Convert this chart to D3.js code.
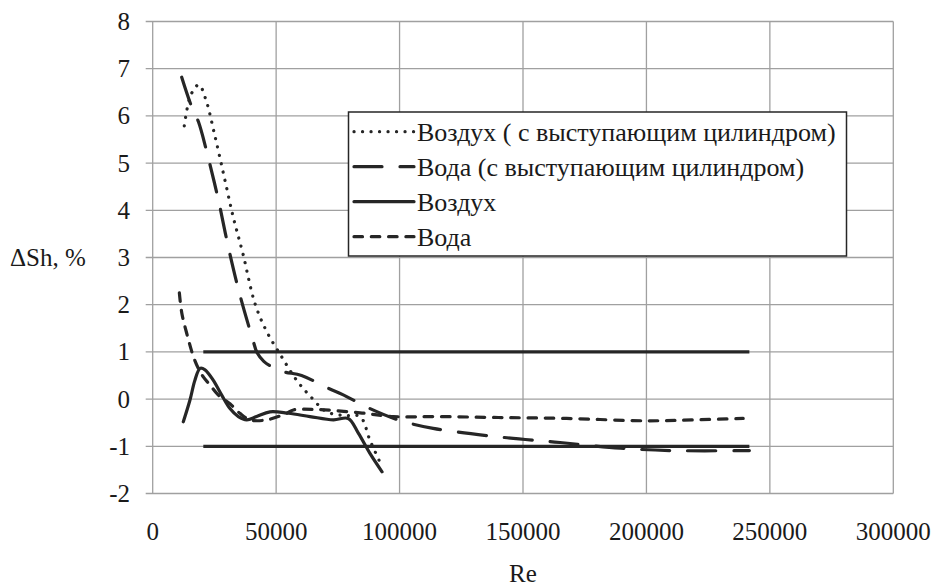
<html>
    <head>
        <title> ΔSh vs Re </title>
        <script src="https://d3js.org/d3.v7.min.js" charset="utf-8"></script>
        <style>
        body{
            margin: 0;
            background: white;
        }
        svg text{
            font-family: "Liberation Serif", "Times New Roman", Times, Tinos, "DejaVu Serif", "Noto Serif", serif;
        }
        .grid line{
            stroke: #a0a0a0;
            stroke-width: 1.3;
        }
        .curve{
            fill: none;
            stroke: #262626;
            stroke-width: 3.2;
        }
        </style>
    </head>
    <body>
        <script>
            //size of graphic
            var width = 933;
            var height = 586;

            //axis ticks
            var xTicks = [0, 50000, 100000, 150000, 200000, 250000, 300000];
            var yTicks = [-2, -1, 0, 1, 2, 3, 4, 5, 6, 7, 8];

            //Воздух ( с выступающим цилиндром)
            var reAirCyl = [12800, 15500, 18700, 21500, 25000, 29000, 32600, 36500, 41400, 46000, 52200, 58300, 64000, 70500, 78000, 84000, 88000, 92000];
            var shAirCyl = [5.79, 6.45, 6.66, 6.35, 5.62, 4.7, 3.86, 3.09, 2.03, 1.45, 0.9, 0.4, 0.05, -0.27, -0.35, -0.37, -0.87, -1.33];

            //Вода (с выступающим цилиндром)
            var reWaterCyl = [11750, 15800, 18500, 21900, 26600, 30600, 35100, 40500, 42300, 45000, 48500, 53000, 60300, 71100, 77200, 88000, 100000, 113600, 140000, 165000, 189400, 209600, 241700];
            var shWaterCyl = [6.82, 6.19, 5.88, 5.24, 4.22, 3.23, 2.25, 1.27, 0.98, 0.8, 0.68, 0.58, 0.5, 0.23, 0.09, -0.2, -0.45, -0.62, -0.8, -0.92, -1.04, -1.09, -1.09];

            //Воздух
            var reAir = [12400, 15100, 17100, 19200, 21200, 24500, 27900, 31300, 34700, 38100, 42100, 47500, 55000, 63700, 73200, 79200, 83300, 88000, 92900];
            var shAir = [-0.48, -0.02, 0.4, 0.65, 0.62, 0.4, 0.09, -0.2, -0.37, -0.44, -0.37, -0.27, -0.3, -0.37, -0.44, -0.41, -0.72, -1.15, -1.54];

            //Вода
            var reWater = [10800, 11800, 13800, 16500, 18500, 20500, 23200, 26500, 31300, 35300, 39400, 46200, 54300, 57000, 66400, 84000, 97500, 115000, 140000, 167700, 200100, 219000, 239200];
            var shWater = [2.25, 1.82, 1.39, 0.9, 0.65, 0.47, 0.3, 0.09, -0.1, -0.3, -0.44, -0.44, -0.3, -0.23, -0.22, -0.29, -0.37, -0.37, -0.39, -0.41, -0.46, -0.44, -0.41];

            //limits ±1 %
            var reLimit = [20500, 241700];
            var shUpper = [1, 1];
            var shLower = [-1, -1];

            var legendNames = ["Воздух ( с выступающим цилиндром)", "Вода (с выступающим цилиндром)", "Воздух", "Вода"];

            //line styles for each series (dash patterns)
            var dashes = ["0.1 8.4", "28 18", null, "8.5 8.8"];

            //plot area edges (window.top is taken, so own names)
            var plotLeft = 152.7, plotRight = 893.3, plotTop = 21.5, plotBottom = 493.5;

            var x = d3.scaleLinear().domain([0, 300000]).range([plotLeft, plotRight]);
            var y = d3.scaleLinear().domain([-2, 8]).range([plotBottom, plotTop]);

            var svg = d3.select("body")
            .append("svg")
            .attr("width", width)
            .attr("height", height);

            //grid lines
            var grid = svg.append("g").attr("class", "grid");
            grid.selectAll(".hline")
            .data(yTicks)
            .enter()
            .append("line")
            .attr("x1", plotLeft - 7)
            .attr("x2", plotRight)
            .attr("y1", function(d){ return y(d); })
            .attr("y2", function(d){ return y(d); });
            grid.selectAll(".vline")
            .data(xTicks)
            .enter()
            .append("line")
            .attr("x1", function(d){ return x(d); })
            .attr("x2", function(d){ return x(d); })
            .attr("y1", plotTop)
            .attr("y2", plotBottom);

            //tick labels
            svg.append("g")
            .selectAll("text")
            .data(yTicks)
            .enter()
            .append("text")
            .attr("x", 130)
            .attr("y", function(d){ return y(d); })
            .attr("dy", "0.34em")
            .attr("text-anchor", "end")
            .attr("font-size", 25)
            .attr("fill", "#1a1a1a")
            .text(function(d){ return d; });

            svg.append("g")
            .selectAll("text")
            .data(xTicks)
            .enter()
            .append("text")
            .attr("x", function(d){ return x(d); })
            .attr("y", 540)
            .attr("text-anchor", "middle")
            .attr("font-size", 25)
            .attr("fill", "#1a1a1a")
            .text(function(d){ return d; });

            //axis titles
            svg.append("text")
            .attr("x", 10)
            .attr("y", y(3))
            .attr("dy", "0.34em")
            .attr("font-size", 25)
            .attr("fill", "#1a1a1a")
            .text("ΔSh, %");

            svg.append("text")
            .attr("x", (plotLeft + plotRight) / 2)
            .attr("y", 582)
            .attr("text-anchor", "middle")
            .attr("font-size", 25)
            .attr("fill", "#1a1a1a")
            .text("Re");

            //smoothed lines like excel
            var line = d3.line()
            .x(function(d){ return x(d[0]); })
            .y(function(d){ return y(d[1]); })
            .curve(d3.curveCatmullRom.alpha(0.5));

            var series = [
                d3.zip(reAirCyl, shAirCyl),
                d3.zip(reWaterCyl, shWaterCyl),
                d3.zip(reAir, shAir),
                d3.zip(reWater, shWater)
            ];

            var curves = svg.append("g");
            //limit lines
            [shUpper, shLower].forEach(function(s){
                curves.append("path")
                .attr("class", "curve")
                .attr("d", line(d3.zip(reLimit, s)));
            });
            curves.selectAll(".series")
            .data(series)
            .enter()
            .append("path")
            .attr("class", "curve")
            .attr("stroke-linecap", "round")
            .attr("stroke-width", function(d, i){ return i == 0 ? 3.6 : 3.2; })
            .attr("stroke-dasharray", function(d, i){ return dashes[i]; })
            .attr("d", line);

            //legend box
            var legend = svg.append("g");
            legend.append("rect")
            .attr("x", 348.5)
            .attr("y", 112)
            .attr("width", 498)
            .attr("height", 144)
            .attr("fill", "white")
            .attr("stroke", "#262626")
            .attr("stroke-width", 1.5);

            var rows = legend.selectAll(".row")
            .data(legendNames)
            .enter()
            .append("g")
            .attr("transform", function(d, i){ return "translate(0," + (131.7 + i * 35) + ")"; });
            rows.append("line")
            .attr("class", "curve")
            .attr("x1", 354)
            .attr("x2", 414)
            .attr("stroke-linecap", "round")
            .attr("stroke-dasharray", function(d, i){ return dashes[i]; });
            rows.append("text")
            .attr("x", 417)
            .attr("dy", "0.34em")
            .attr("font-size", 26)
            .attr("fill", "#1a1a1a")
            .text(function(d){ return d; });
        </script>
    </body>
</html>
